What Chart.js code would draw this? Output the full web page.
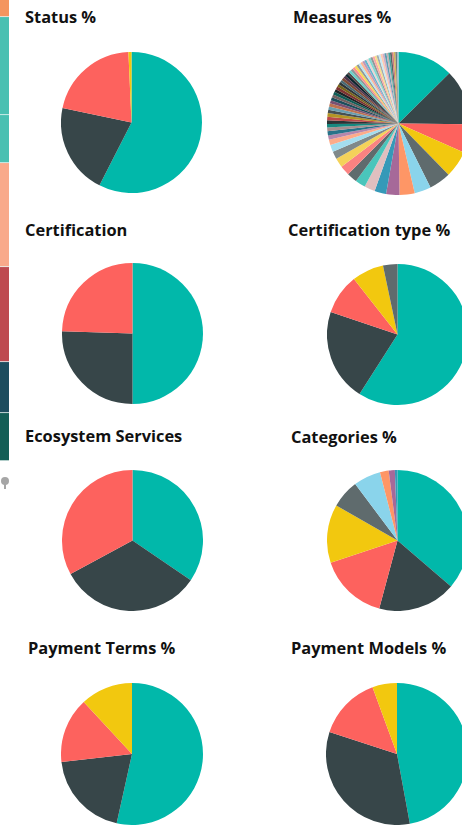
<!DOCTYPE html>
<html>
<head>
<meta charset="utf-8">
<script src="https://cdn.jsdelivr.net/npm/chart.js@4.4.1/dist/chart.umd.min.js"></script>
<style>
    html, body { margin: 0; padding: 0; background: #fff; }
    body { position: relative; width: 462px; height: 825px; overflow: hidden; }
    canvas { position: absolute; display: block; }
    .title {
        position: absolute;
        font-family: "Open Sans", "Noto Sans", sans-serif;
        font-weight: 700;
        font-size: 16.4px;
        line-height: 20px;
        color: #111;
        white-space: nowrap;
    }
    .pin { position: absolute; left: 1px; top: 477px; width: 8px; height: 8px; border-radius: 50%; background: #a6a6a6; }
    .pin:after { content: ''; position: absolute; left: 3px; top: 7px; width: 2px; height: 5px; background: #a6a6a6; }
</style>
</head>
<body>
<canvas id="strip" width="9" height="461" style="left:0;top:0"></canvas>
<div class="pin"></div>

<div class="title" style="left:25px;top:7px">Status %</div>
<div class="title" style="left:293px;top:7px">Measures %</div>
<div class="title" style="left:25px;top:220px">Certification</div>
<div class="title" style="left:288px;top:220px">Certification type %</div>
<div class="title" style="left:25px;top:426px">Ecosystem Services</div>
<div class="title" style="left:291px;top:427px">Categories %</div>
<div class="title" style="left:28px;top:638px">Payment Terms %</div>
<div class="title" style="left:291px;top:638px">Payment Models %</div>

<canvas id="status" width="141" height="141" style="left:61px;top:52px"></canvas>
<canvas id="measures" width="143" height="143" style="left:327px;top:52px"></canvas>
<canvas id="certification" width="141" height="141" style="left:62px;top:263px"></canvas>
<canvas id="certType" width="141" height="141" style="left:327px;top:264px"></canvas>
<canvas id="ecosystem" width="141" height="141" style="left:62px;top:470px"></canvas>
<canvas id="categories" width="141" height="141" style="left:327px;top:470px"></canvas>
<canvas id="paymentTerms" width="142" height="142" style="left:61px;top:683px"></canvas>
<canvas id="paymentModels" width="142" height="142" style="left:326px;top:683px"></canvas>

<script>
// valores (percentuais aproximados)
const statusValues = [57.5, 20.8, 21.0, 0.7];
const certificationValues = [50.0, 25.5, 24.5];
const certTypeValues = [59.0, 21.1, 9.2, 7.3, 3.3];
const ecosystemValues = [34.5, 32.6, 32.9];
const categoriesValues = [36.3, 17.9, 15.7, 13.4, 6.5, 6.25, 2.0, 1.4, 0.6];
const paymentTermsValues = [53.5, 19.75, 14.9, 11.9];
const paymentModelsValues = [47.1, 32.9, 14.4, 5.6];
const measuresValues = [
    12.5, 12.5, 6.4, 6.0, 4.9, 3.7, 3.4, 3.0, 2.6, 2.4, 2.3, 2.3, 2.2, 2.1, 1.7, 1.6,
    1.2, 1.0, 0.9, 0.85, 0.8, 0.8,
    0.8, 0.8, 0.75, 0.75, 0.7, 0.7, 0.7, 0.7, 0.65, 0.65,
    0.65, 0.6, 0.6, 0.6, 0.6, 0.6, 0.6, 0.55, 0.55, 0.55,
    0.55, 0.55, 0.5, 0.5, 0.5, 0.5, 0.5, 0.5, 0.5, 0.5,
    0.5, 0.45, 0.45, 0.45, 0.45, 0.45, 0.45, 0.4, 0.4, 0.4,
    0.4, 0.4, 0.35, 0.35
];

// faixa lateral (visual cortado à esquerda)
const stripValues = [17, 98, 48, 104, 95, 51, 48];
const stripColors = ['#F4955F', '#4AC0B2', '#4AC0B2', '#F9A98A', '#BE4A50', '#1D4D5E', '#135E56'];

const palette = [
    '#01B8AA', '#374649', '#FD625E', '#F2C80F', '#5F6B6D', '#8AD4EB', '#FE9666', '#A66999',
    '#3599B8', '#DFBFBF', '#4AC5BB', '#5F6B6D', '#FB8281', '#F4D25A', '#7F898A', '#A4DDEE',
    '#FDAB89', '#B687AC', '#28738A', '#A78F8F', '#168980', '#293537', '#BB4A4A', '#B59525',
    '#475052', '#6A9FB0', '#BD7150', '#7B4F71', '#1B4D5C', '#706060', '#0F5C55', '#1C2325',
    '#7D3231', '#796419', '#303637', '#476A75', '#7E4B36', '#52354C', '#0D262E', '#544848',
    '#67D4CB', '#8C9799', '#FE918E', '#F6D957', '#8F999A', '#B9E5F3', '#FEB694', '#C196B8',
    '#68B4CD', '#E9D5D5', '#80D9D1', '#8F999A', '#FCA8A7', '#F8E08B', '#A5ACAD', '#C8EBF5',
    '#FEC8B0', '#CFAEC7', '#5D9DB3', '#C2B1B1', '#45A59D', '#556466', '#D17E7E', '#D1B85B',
    '#737C7D', '#98BFCC'
];

function drawPie(id, values) {
    const el = document.getElementById(id);
    if (!el) return;
    new Chart(el.getContext('2d'), {
        type: 'pie',
        data: {
            labels: values.map((v, i) => 'Item ' + (i + 1)),
            datasets: [{
                data: values,
                backgroundColor: palette.slice(0, values.length),
                borderWidth: 0
            }]
        },
        options: {
            responsive: false,
            animation: false,
            events: [],
            layout: { padding: 0 },
            plugins: {
                legend: { display: false },
                tooltip: { enabled: false }
            }
        }
    });
}

document.addEventListener('DOMContentLoaded', () => {
    drawPie('status', statusValues);
    drawPie('measures', measuresValues);
    drawPie('certification', certificationValues);
    drawPie('certType', certTypeValues);
    drawPie('ecosystem', ecosystemValues);
    drawPie('categories', categoriesValues);
    drawPie('paymentTerms', paymentTermsValues);
    drawPie('paymentModels', paymentModelsValues);

    const stripTotal = stripValues.reduce((a, b) => a + b, 0);
    new Chart(document.getElementById('strip').getContext('2d'), {
        type: 'bar',
        data: {
            labels: [''],
            datasets: stripValues.map((v, i) => ({
                data: [v],
                backgroundColor: stripColors[i],
                borderColor: '#e8f4f2',
                borderWidth: { top: 0, right: 0, bottom: 1, left: 0 },
                borderSkipped: false,
                barPercentage: 1,
                categoryPercentage: 1
            }))
        },
        options: {
            responsive: false,
            animation: false,
            events: [],
            layout: { padding: 0 },
            plugins: { legend: { display: false }, tooltip: { enabled: false } },
            scales: {
                x: { display: false, stacked: true },
                y: { display: false, stacked: true, reverse: true, min: 0, max: stripTotal }
            }
        }
    });
});
</script>
</body>
</html>
